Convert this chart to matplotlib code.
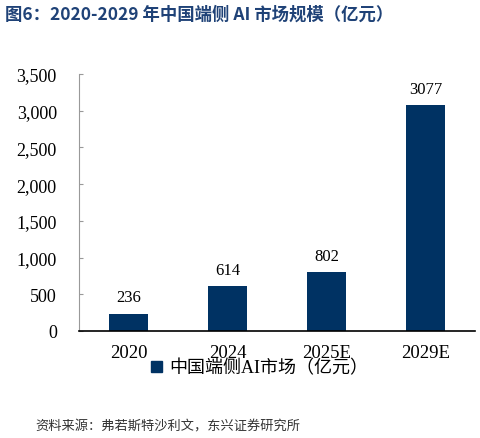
import matplotlib
matplotlib.use("Agg")
import matplotlib.pyplot as plt
from matplotlib.ticker import FuncFormatter
from matplotlib.patches import Patch

categories = ["2020", "2024", "2025E", "2029E"]
values = [236, 614, 802, 3077]
yticks = [0, 500, 1000, 1500, 2000, 2500, 3000, 3500]
series_name = "中国端侧AI市场（亿元）"
title = "图6：2020-2029 年中国端侧 AI 市场规模（亿元）"
source = "资料来源：弗若斯特沙利文，东兴证券研究所"

navy = "#003263"
serif = ["Liberation Serif", "Noto Sans CJK SC", "DejaVu Serif"]

fig = plt.figure(figsize=(4.8, 4.39), dpi=100)
ax = fig.add_axes([79/480, 1-332/439, 396/480, 257/439])

x = list(range(len(categories)))
bars = ax.bar(x, values, width=0.4, color=navy, zorder=2)
for xi, v in zip(x, values):
    ax.annotate(str(v), (xi, v), xytext=(0, 6), textcoords="offset points",
                ha="center", va="bottom", fontsize=12, family=serif)

ax.set_xlim(-0.5, 3.5)
ax.set_ylim(0, 3500)
ax.set_yticks(yticks)
ax.yaxis.set_major_formatter(FuncFormatter(lambda v, p: f"{int(v):,}"))
ax.set_xticks(x)
ax.set_xticklabels(categories)

for s in ["top", "right"]:
    ax.spines[s].set_visible(False)
ax.spines["left"].set_color("#999999")
ax.spines["left"].set_linewidth(0.8)
ax.spines["bottom"].set_color("black")
ax.spines["bottom"].set_linewidth(1.2)

ax.tick_params(axis="y", direction="in", length=3, color="#999999", pad=16, labelsize=13)
ax.tick_params(axis="x", length=0, pad=9, labelsize=13.5)
for lab in ax.get_xticklabels() + ax.get_yticklabels():
    lab.set_family(serif)

handle = Patch(facecolor=navy, edgecolor=navy)
leg = fig.legend([handle], [series_name], loc="center", bbox_to_anchor=(260/480, 1-369/439),
                 frameon=False, prop={"family": serif, "size": 13},
                 handlelength=0.6, handleheight=0.6, handletextpad=0.4)

fig.text(5/480, 1-15/439, title, ha="left", va="center", fontsize=12.5,
         fontweight="bold", color="#1F4277", family=["Noto Sans CJK SC", "DejaVu Sans"])
fig.text(35/480, 1-427/439, source, ha="left", va="center", fontsize=9.5,
         color="#333333", style="italic", family=["Noto Sans CJK SC", "DejaVu Sans"])

fig.savefig("out.png", dpi=100)
